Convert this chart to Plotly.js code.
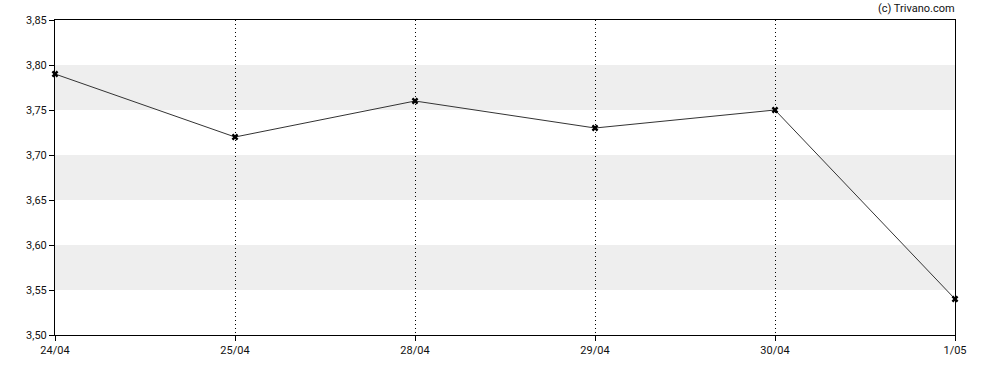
<!DOCTYPE html>
<html>
<head>
<meta charset="utf-8">
<script src="https://cdn.plot.ly/plotly-3.0.1.min.js"></script>
<style>html,body{margin:0;padding:0;background:#fff;}#chart{width:988px;height:370px;}</style>
</head>
<body>
<div id="chart"></div>
<script>
const dates = ["24/04", "25/04", "28/04", "29/04", "30/04", "1/05"];
const prices = [3.79, 3.72, 3.76, 3.73, 3.75, 3.54];
const bandsLow = [3.55, 3.65, 3.75];
const bandsHigh = [3.60, 3.70, 3.80];

const shapes = bandsLow.map((lo, i) => ({
  type: 'rect', xref: 'paper', yref: 'y', x0: 0, x1: 1, y0: lo, y1: bandsHigh[i],
  fillcolor: '#eeeeee', line: {width: 0}, layer: 'below'
}));

const trace = {
  x: dates, y: prices, type: 'scatter', mode: 'lines+markers',
  line: {color: '#333333', width: 1},
  marker: {symbol: 'x', size: 6, color: '#000000'},
  cliponaxis: false,
  hoverinfo: 'x+y'
};

const layout = {
  width: 988, height: 370,
  margin: {l: 55, r: 33, t: 20, b: 35},
  paper_bgcolor: '#ffffff', plot_bgcolor: 'rgba(0,0,0,0)',
  separators: ',.',
  font: {family: 'Roboto, sans-serif', size: 11, color: '#111111'},
  showlegend: false,
  xaxis: {
    type: 'category', range: [0, 5],
    showline: true, linecolor: '#000', linewidth: 1, mirror: true,
    ticks: 'outside', ticklen: 5, tickcolor: '#000',
    showgrid: true, gridcolor: '#000', gridwidth: 1, griddash: '1px,3px',
    zeroline: false, fixedrange: true
  },
  yaxis: {
    range: [3.50, 3.85], dtick: 0.05, tick0: 3.5, tickformat: '.2f',
    showline: true, linecolor: '#000', linewidth: 1, mirror: true,
    ticks: 'outside', ticklen: 5, tickcolor: '#000',
    showgrid: false, zeroline: false, fixedrange: true
  },
  shapes: shapes,
  annotations: [{
    text: '(c) Trivano.com', xref: 'paper', yref: 'paper', x: 1, y: 1,
    xanchor: 'right', yanchor: 'bottom', yshift: 3, xshift: 2, showarrow: false,
    font: {family: 'Roboto, sans-serif', size: 11, color: '#111111'}
  }]
};

Plotly.newPlot('chart', [trace], layout, {displayModeBar: false, staticPlot: true});
</script>
</body>
</html>
